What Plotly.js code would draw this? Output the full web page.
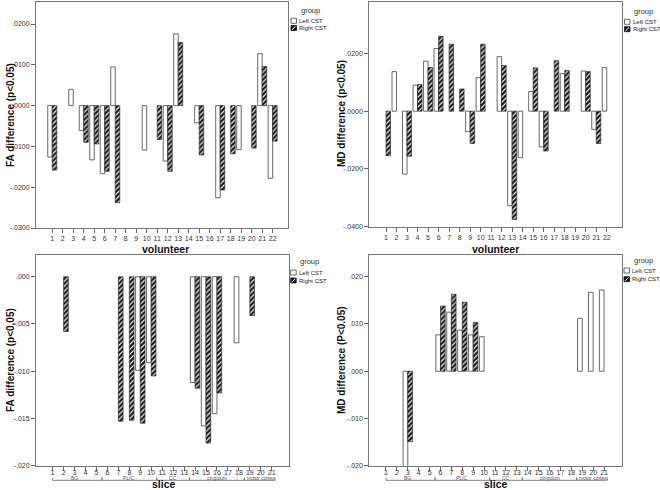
<!DOCTYPE html>
<html>
<head>
<meta charset="utf-8">
<script src="https://cdn.plot.ly/plotly-3.0.1.min.js"></script>
<style>html,body{margin:0;padding:0;background:#fff;}#chart{width:660px;height:490px;}</style>
</head>
<body>
<div id="chart"></div>
<script>
// ---------- data ----------
const volunteers = [1,2,3,4,5,6,7,8,9,10,11,12,13,14,15,16,17,18,19,20,21,22];
const slices = [1,2,3,4,5,6,7,8,9,10,11,12,13,14,15,16,17,18,19,20,21];
const seriesNames = ["Left CST", "Right CST"];

const faVolLeft  = [-0.0126, null, 0.0040, -0.0061, -0.0133, -0.0167, 0.0095, null, null, -0.0109, null, -0.0136, 0.0176, null, -0.0042, null, -0.0226, null, -0.0108, null, 0.0127, -0.0178];
const faVolRight = [-0.0158, null, null, -0.0090, -0.0094, -0.0161, -0.0238, null, null, null, -0.0083, -0.0161, 0.0155, null, -0.0121, null, -0.0207, -0.0118, null, -0.0104, 0.0096, -0.0087];

const mdVolLeft  = [null, 0.0137, -0.0218, 0.0090, 0.0173, 0.0217, null, null, -0.0071, 0.0116, null, 0.0189, -0.0327, -0.0161, 0.0068, -0.0124, null, 0.0130, null, 0.0139, -0.0063, 0.0151];
const mdVolRight = [-0.0154, null, -0.0156, 0.0092, 0.0151, 0.0259, 0.0232, 0.0077, -0.0112, 0.0232, null, 0.0158, -0.0375, null, 0.0150, -0.0138, 0.0175, 0.0141, null, 0.0137, -0.0112, null];

const faSliceLeft  = [null, null, null, null, null, null, null, null, -0.0099, -0.0091, null, null, null, -0.0112, -0.0158, -0.0145, null, -0.0070, null, null, null];
const faSliceRight = [null, -0.0058, null, null, null, null, -0.0153, -0.0152, -0.0155, -0.0105, null, null, null, -0.0118, -0.0176, -0.0123, null, null, -0.0041, null, null];

const mdSliceLeft  = [null, null, -0.0202, null, null, 0.0077, 0.0125, 0.0087, 0.0077, 0.0073, null, null, null, null, null, null, null, null, 0.0112, 0.0167, 0.0172];
const mdSliceRight = [null, null, -0.0149, null, null, 0.0138, 0.0163, 0.0146, 0.0103, null, null, null, null, null, null, null, null, null, null, null, null];

const faVolTicks  = [0.02, 0.01, 0, -0.01, -0.02, -0.03];
const faVolText   = [".0200", ".0100", ".0000", "-.0100", "-.0200", "-.0300"];
const mdVolTicks  = [0.02, 0, -0.02, -0.04];
const mdVolText   = [".0200", ".0000", "-.0200", "-.0400"];
const faSliceTicks = [0, -0.005, -0.01, -0.015, -0.02];
const faSliceText  = [".000", "-.005", "-.010", "-.015", "-.020"];
const mdSliceTicks = [0.02, 0.01, 0, -0.01, -0.02];
const mdSliceText  = [".020", ".010", ".000", "-.010", "-.020"];

const groupNames = ["BG", "PLIC", "CC", "cingulum", "motor cortex"];
const groupStart = [1, 5.5, 10.5, 13.5, 18.5];
const groupEnd   = [5.5, 10.5, 13.5, 18.5, 21.3];
const groupLabelAt = [3, 8, 12, 16, 20];

// ---------- helpers ----------
const W = 660, H = 490;
const FONT = "Arial, 'Liberation Sans', sans-serif";
const px = x => x / W;
const py = y => 1 - y / H;

const leftStyle = {color: "#ffffff", line: {color: "#444", width: 0.8}};
const rightStyle = {color: "#151515", line: {color: "#151515", width: 0.6},
  pattern: {shape: "/", fgcolor: "#ffffff", bgcolor: "#151515", size: 3.5, solidity: 0.35, fillmode: "replace"}};

function barPair(x, l, r, xa, ya) {
  return [
    {type: "bar", x: x, y: l, name: seriesNames[0], xaxis: xa, yaxis: ya, marker: leftStyle, hoverinfo: "x+y"},
    {type: "bar", x: x, y: r, name: seriesNames[1], xaxis: xa, yaxis: ya, marker: rightStyle, hoverinfo: "x+y"}
  ];
}

const data = [].concat(
  barPair(volunteers, faVolLeft, faVolRight, "x", "y"),
  barPair(volunteers, mdVolLeft, mdVolRight, "x2", "y2"),
  barPair(slices, faSliceLeft, faSliceRight, "x3", "y3"),
  barPair(slices, mdSliceLeft, mdSliceRight, "x4", "y4")
);

function xax(domain, range, vals, anchor, standoff) {
  return {domain: domain, range: range, anchor: anchor, tickmode: "array", tickvals: vals,
    ticktext: vals.map(String), ticks: "outside", ticklen: 4, tickwidth: 1, tickcolor: "#666",
    ticklabelstandoff: standoff || 0,
    showline: true, mirror: true, linecolor: "#777", linewidth: 1, showgrid: false, zeroline: false,
    tickfont: {family: FONT, size: 7, color: "#333"}, fixedrange: true};
}
function yax(domain, range, vals, text, anchor) {
  return {domain: domain, range: range, anchor: anchor, tickmode: "array", tickvals: vals, ticktext: text,
    ticks: "outside", ticklen: 4, tickwidth: 1, tickcolor: "#666",
    showline: true, mirror: true, linecolor: "#777", linewidth: 1, showgrid: false, zeroline: false,
    tickfont: {family: FONT, size: 7, color: "#333"}, fixedrange: true};
}

const layout = {
  width: W, height: H, margin: {l: 0, r: 0, t: 0, b: 0},
  paper_bgcolor: "#fff", plot_bgcolor: "#fff",
  showlegend: false, barmode: "group", bargap: 0.14, bargroupgap: 0,
  font: {family: FONT},
  xaxis:  xax([px(36), px(288)], [-0.55, 23.46], volunteers, "y"),
  yaxis:  yax([py(228), py(2)], [-0.03, 0.0254], faVolTicks, faVolText, "x"),
  xaxis2: xax([px(369.3), px(621.5)], [-0.59, 23.4], volunteers, "y2"),
  yaxis2: yax([py(226.7), py(2)], [-0.04, 0.0378], mdVolTicks, mdVolText, "x2"),
  xaxis3: xax([px(36), px(288.5)], [-0.52, 22.53], slices, "y3", -4),
  yaxis3: yax([py(465.7), py(255)], [-0.02, 0.0023], faSliceTicks, faSliceText, "x3"),
  xaxis4: xax([px(369.3), px(621.5)], [-0.53, 22.6], slices, "y4", -4),
  yaxis4: yax([py(465.7), py(255)], [-0.02, 0.0246], mdSliceTicks, mdSliceText, "x4"),
  shapes: [],
  annotations: []
};

function ann(x, y, text, opts) {
  return Object.assign({xref: "paper", yref: "paper", x: px(x), y: py(y), text: text, showarrow: false,
    font: {family: FONT, size: 10, color: "#111"}, xanchor: "center", yanchor: "middle"}, opts || {});
}

// axis titles
layout.annotations.push(
  ann(10, 115, "<b>FA difference (p&lt;0.05)</b>", {textangle: -90}),
  ann(341, 114, "<b>MD difference (p&lt;0.05)</b>", {textangle: -90}),
  ann(10, 360, "<b>FA difference (p&lt;0,05)</b>", {textangle: -90}),
  ann(341, 360, "<b>MD difference (P&lt;0.05)</b>", {textangle: -90}),
  ann(165, 249, "<b>volunteer</b>", {font: {family: FONT, size: 10.5, color: "#111"}}),
  ann(495, 249, "<b>volunteer</b>", {font: {family: FONT, size: 10.5, color: "#111"}}),
  ann(164, 484, "<b>slice</b>", {font: {family: FONT, size: 10.5, color: "#111"}}),
  ann(496, 484, "<b>slice</b>", {font: {family: FONT, size: 10.5, color: "#111"}})
);

// legends (one per panel)
function addLegend(bx, gy, y1, y2) {
  layout.annotations.push(
    ann(bx + 19, gy, "group", {font: {family: FONT, size: 7.5, color: "#333"}}),
    ann(bx + 6, y1 + 2.5, seriesNames[0], {xanchor: "left", font: {family: FONT, size: 6, color: "#222"}}),
    ann(bx + 6, y2 + 2.5, seriesNames[1], {xanchor: "left", font: {family: FONT, size: 6, color: "#222"}})
  );
  layout.shapes.push(
    {type: "rect", xref: "paper", yref: "paper", x0: px(bx), x1: px(bx + 5.5), y0: py(y1), y1: py(y1 + 5), line: {color: "#444", width: 0.8}, fillcolor: "#fff"},
    {type: "rect", xref: "paper", yref: "paper", x0: px(bx), x1: px(bx + 5.5), y0: py(y2), y1: py(y2 + 5), line: {color: "#151515", width: 0.8}, fillcolor: "#151515"},
    {type: "line", xref: "paper", yref: "paper", x0: px(bx + 1), x1: px(bx + 4.5), y0: py(y2 + 4.2), y1: py(y2 + 0.8), line: {color: "#fff", width: 1}}
  );
}
addLegend(291, 10, 18.3, 25.5);
addLegend(624.5, 11.5, 19.3, 26.7);
addLegend(290.7, 261.5, 270, 278);
addLegend(624, 260, 268, 276.7);

// slice group brackets under bottom panels
function addGroups(xa) {
  for (let i = 0; i < groupNames.length; i++) {
    layout.shapes.push(
      {type: "line", xref: xa, yref: "paper", x0: groupStart[i], x1: groupEnd[i], y0: py(480.3), y1: py(480.3), line: {color: "#666", width: 0.8}},
      {type: "line", xref: xa, yref: "paper", x0: groupStart[i], x1: groupStart[i], y0: py(480.3), y1: py(477.5), line: {color: "#666", width: 0.8}},
      {type: "line", xref: xa, yref: "paper", x0: groupEnd[i], x1: groupEnd[i], y0: py(480.3), y1: py(477.5), line: {color: "#666", width: 0.8}}
    );
    layout.annotations.push({xref: xa, yref: "paper", x: groupLabelAt[i], y: py(477.8), text: groupNames[i],
      showarrow: false, xanchor: "center", yanchor: "middle", font: {family: FONT, size: 5, color: "#555"}});
  }
}
addGroups("x3");
addGroups("x4");

Plotly.newPlot("chart", data, layout, {displayModeBar: false, staticPlot: true});
</script>
</body>
</html>
